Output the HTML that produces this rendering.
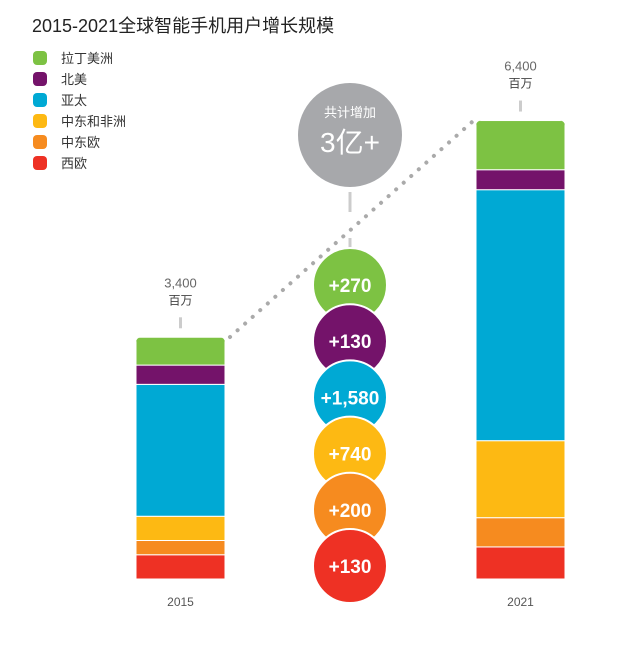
<!DOCTYPE html>
<html><head><meta charset="utf-8">
<style>
body{margin:0;background:#fff;}
svg text{font-family:"Liberation Sans","Noto Sans CJK SC",sans-serif;}
</style></head>
<body>
<svg id="chart" width="640" height="641" viewBox="0 0 640 641" xmlns="http://www.w3.org/2000/svg">
<text x="32" y="32" font-size="18" fill="#222">2015-2021全球智能手机用户增长规模</text>
<g id="legend"></g>
<line x1="230" y1="337" x2="472" y2="122" stroke="#aaa" stroke-width="4" stroke-dasharray="0.1 10" stroke-linecap="round"/>
<line x1="350" y1="192" x2="350" y2="212" stroke="#ccc" stroke-width="3"/>
<line x1="350" y1="238" x2="350" y2="252" stroke="#ccc" stroke-width="3"/>
<circle cx="350" cy="135" r="52" fill="#a7a8ab"/>
<text x="350" y="117" font-size="13" fill="#fff" text-anchor="middle">共计增加</text>
<text x="350" y="152" font-size="28" fill="#fff" text-anchor="middle">3亿+</text>
<g id="bars"></g>
<g id="circles"></g>
</svg>
<script>
const regions = ["拉丁美洲","北美","亚太","中东和非洲","中东欧","西欧"];
const colors = ["#7dc243","#74136a","#00a9d4","#fdb913","#f68b1f","#ee3124"];
const years = ["2015","2021"];
const values2015 = [390,270,1850,340,200,340];
const values2021 = [690,280,3520,1080,410,450];
const totals = ["3,400","6,400"];
const increases = ["+270","+130","+1,580","+740","+200","+130"];

const NS="http://www.w3.org/2000/svg";
const svg=document.getElementById('chart');
function mk(tag,attrs,parent){const e=document.createElementNS(NS,tag);for(const k in attrs)e.setAttribute(k,attrs[k]);(parent||svg).appendChild(e);return e;}
const baseY=579, scale=0.0713;
function yPx(v){return baseY - v*scale;}

const lg=document.getElementById('legend');
regions.forEach((r,i)=>{
  const cy=58+i*21;
  const s=mk('rect',{x:33,y:cy-7,width:14,height:14,rx:4,fill:colors[i]},lg);
  
  
  const t=mk('text',{x:61,y:cy+5,'font-size':13,fill:'#333'},lg);
  t.textContent=r;
  
  
});

const bars=document.getElementById('bars');
const barX=[136,476], barW=89;
[values2015,values2021].forEach((vals,bi)=>{
  const x=barX[bi];
  let cum=0;
  const total=vals.reduce((a,b)=>a+b,0);
  const topY=yPx(total);
  const clipId='clip'+bi;
  const cp=mk('clipPath',{id:clipId},bars);
  mk('rect',{x:x,y:topY,width:barW,height:baseY-topY+6,rx:5},cp);
  const g=mk('g',{'clip-path':'url(#'+clipId+')'},bars);
  for(let i=vals.length-1;i>=0;i--){
    const y0=yPx(cum), y1=yPx(cum+vals[i]);
    const r=mk('rect',{x:x,y:y1,width:barW,height:y0-y1,fill:colors[i],stroke:'#fff','stroke-width':1},g);
    
    
    cum+=vals[i];
  }
  const cx=x+barW/2;
  const t1=mk('text',{x:cx,y:topY-50,'font-size':13,fill:'#666','text-anchor':'middle'});
  t1.textContent=totals[bi];
  
  
  const t2=mk('text',{x:cx,y:topY-33,'font-size':12,fill:'#444','text-anchor':'middle'});
  t2.textContent='百万';
  
  
  const tk=mk('line',{x1:cx,y1:topY-20,x2:cx,y2:topY-9,stroke:'#ccc','stroke-width':3});
  
  
  const yl=mk('text',{x:cx,y:606,'font-size':12,fill:'#555','text-anchor':'middle'});
  yl.textContent=years[bi];
  
  
});

const cg=document.getElementById('circles');
increases.forEach((v,i)=>{
  const cy=285+i*56.2;
  const c=mk('circle',{cx:350,cy:cy,r:37,fill:colors[i],stroke:'#fff','stroke-width':2},cg);
  
  
  const t=mk('text',{x:350,y:cy+7,'font-size':19,'font-weight':'bold',fill:'#fff','text-anchor':'middle'},cg);
  t.textContent=v;
  
  
});
</script>
</body></html>
